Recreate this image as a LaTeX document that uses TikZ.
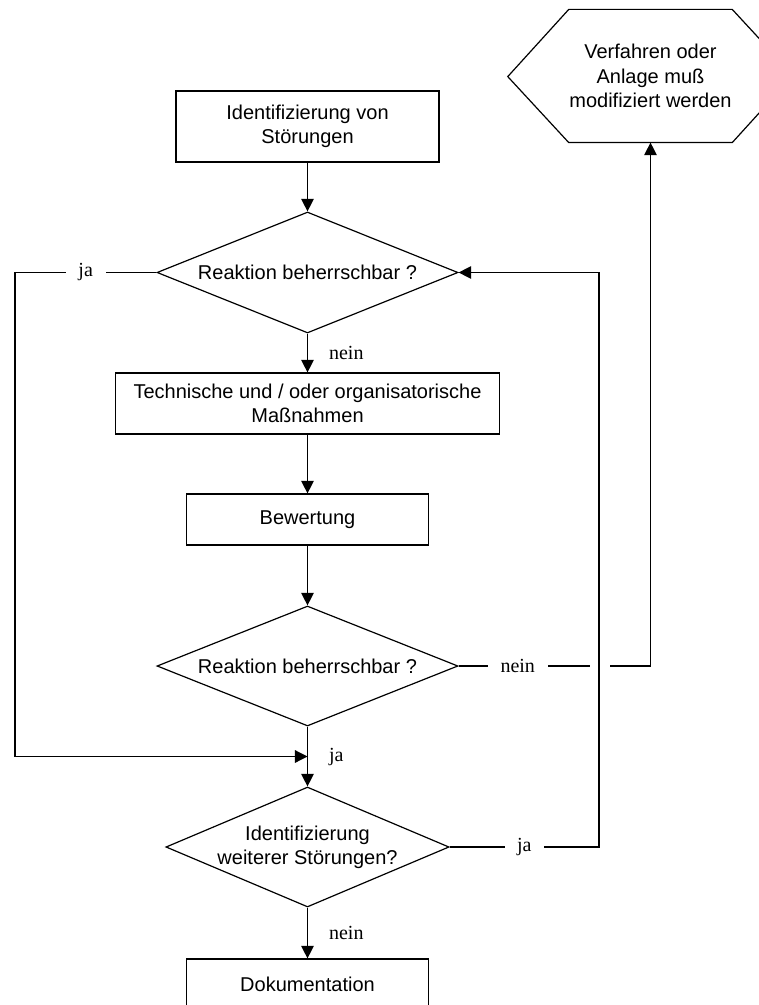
\documentclass[tikz,border=0pt]{standalone}
\usepackage{fontspec}
\setmainfont{Liberation Serif}
\setsansfont{Liberation Sans}
\usetikzlibrary{arrows.meta}
\usetikzlibrary{shapes.geometric}

\begin{document}
\begin{tikzpicture}[x=.5pt, y=-.5pt, line width=.6pt,
		box/.style={draw, rectangle, inner sep=0pt, align=center, font=\sffamily\fontsize{10}{12.15}\selectfont},
		dec/.style={draw, diamond, inner sep=0pt, aspect=2.4, align=center, font=\sffamily\fontsize{10}{12.15}\selectfont},
		hexa/.style={inner sep=0pt, align=center, minimum width=61pt, minimum height=66pt, font=\sffamily\fontsize{10}{12.15}\selectfont},
		lbl/.style={font=\rmfamily\fontsize{10}{12}\selectfont, inner xsep=6.3pt, inner ysep=1pt, fill=white},
		side/.style={font=\rmfamily\fontsize{10}{12}\selectfont, anchor=west, inner sep=0pt, xshift=10.5pt},
		flow/.style={-{Triangle[length=6.3pt, width=6.3pt]}}]
	\useasboundingbox (0,0) rectangle (759,1005);
	\node[box, minimum width=131.5pt, minimum height=35.5pt] (b1) at (307.5,126.5) {Identifizierung von\\Störungen};
	\node[dec, minimum width=150.5pt, minimum height=60.5pt] (d1) at (307.5,272.5) {Reaktion beherrschbar ?};
	\node[box, minimum width=192pt, minimum height=30.5pt] (b2) at (307.5,403.5) {Technische und / oder organisatorische\\Maßnahmen};
	\node[box, minimum width=121pt, minimum height=25.5pt] (b3) at (307.5,519.5) {Bewertung};
	\node[dec, minimum width=150.5pt, minimum height=60pt] (d2) at (307.5,666) {Reaktion beherrschbar ?};
	\node[dec, minimum width=140pt, minimum height=60pt] (d3) at (307.5,847) {Identifizierung\\weiterer Störungen?};
	\node[box, minimum width=121pt, minimum height=25.5pt] (b4) at (307.5,984.5) {Dokumentation};
	\node[hexa] (h1) at (650.5,76) {Verfahren oder\\Anlage muß\\modifiziert werden};
	\draw (h1.north west) -- (h1.north east) -- ++(61,66) -- (h1.south east) -- (h1.south west) -- ++(-61,-66) -- cycle;

	\coordinate (c1) at (15,272.5);
	\coordinate (jn) at (307.5,756.5);
	\coordinate (g1) at (590,666);
	\coordinate (g2) at (610,666);
	\coordinate (c2) at (599,847);

	\draw[flow] (b1) -- (d1);
	\draw[flow] (d1) -- node[side] {nein} (b2);
	\draw[flow] (b2) -- (b3);
	\draw[flow] (b3) -- (d2);
	\draw[flow] (d2) -- node[side] {ja} (d3);
	\draw[flow] (d3) -- node[side] {nein} (b4);
	\draw[flow] (d1.west) -- node[lbl] {ja} (c1) |- (jn);
	\draw (d2.east) -- node[lbl, pos=.45] {nein} (g1);
	\draw[flow] (g2) -| (h1.south);
	\draw[flow] (d3.east) -- node[lbl] {ja} (c2) |- (d1.east);
\end{tikzpicture}
\end{document}
